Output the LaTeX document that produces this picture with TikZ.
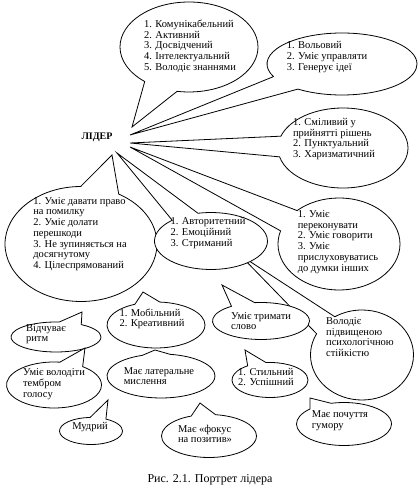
\documentclass[tikz,border=0pt]{standalone}
\usepackage{fontspec}
\setmainfont{Liberation Serif}
\usetikzlibrary{shapes.callouts,calc}

\begin{document}
\begin{tikzpicture}[x=1pt,y=1pt,
  bubble/.style={ellipse callout,draw=black,fill=white,line width=0.8pt,inner sep=0pt,
                 callout pointer arc=30},
  sz/.style 2 args={minimum width=#1,minimum height=#2},
  txt/.style={font=\fontsize{10.5}{10.7}\selectfont,align=left,inner sep=0pt}
]
\useasboundingbox[fill=white] (0,0) rectangle (420,493);

\node[font=\bfseries\fontsize{10}{12}\selectfont] (lider) at (97,356) {ЛІДЕР};

% bubbles round the leader
\node[bubble,sz={138}{90},callout absolute pointer={($(lider)+(35,10)$)},
  label={[txt,xshift=1,yshift=1]center:{1. Комунікабельний\\2. Активний\\3. Досвідчений\\4. Інтелектуальний\\5. Володіє знаннями}}]
  (komun) at (189,446) {};
\node[bubble,sz={150}{62},callout absolute pointer={($(lider)+(33,2)$)},
  label={[txt,xshift=-15,yshift=7]center:{1. Вольовий\\2. Уміє управляти\\3. Генерує ідеї}}]
  (volovyi) at (342,429) {};
\node[bubble,sz={130}{80},callout absolute pointer={($(lider)+(33,-6)$)},
  label={[txt,xshift=-9,yshift=9]center:{1. Сміливий у\\прийнятті рішень\\2. Пунктуальний\\3. Харизматичний}}]
  (smilyvyi) at (343,345) {};
\node[bubble,sz={122}{92},callout absolute pointer={($(lider)+(33,-10)$)},
  label={[txt,xshift=-1,yshift=2]center:{1. Уміє\\переконувати\\2. Уміє говорити\\3. Уміє\\прислуховуватись\\до думки інших}}]
  (perekon) at (339,249) {};
\node[bubble,sz={152}{115},callout absolute pointer={($(lider)+(15,-18)$)},
  label={[txt,xshift=-1,yshift=10]center:{1. Уміє давати право\\на помилку\\2. Уміє долати\\перешкоди\\3. Не зупиняється на\\досягнутому\\4. Цілеспрямований}}]
  (davaty) at (81,249) {};
\node[bubble,sz={103}{90},callout absolute pointer={($(lider)+(143,-118)$)},
  label={[txt,xshift=-2,yshift=18]center:{Володіє\\підвищеною\\психологічною\\стійкістю}}]
  (volodie) at (362,138) {};
\node[bubble,sz={113}{57},callout absolute pointer={($(lider)+(20,-16)$)},
  label={[txt,xshift=-3,yshift=8]center:{1. Авторитетний\\2. Емоційний\\3. Стриманий}}]
  (avtor) at (211,252) {};

% smaller bubbles below
\node[bubble,sz={97}{37},callout absolute pointer={($(avtor)+(11,-44)$)},
  label={[txt]center:{Уміє тримати\\слово}}]
  (trymaty) at (261,172) {};
\node[bubble,sz={98}{46},callout absolute pointer={($(davaty)+(62,-48)$)},
  label={[txt,xshift=-4,yshift=6]center:{1. Мобільний\\2. Креативний}}]
  (mobilnyi) at (156,168) {};
\node[bubble,sz={90}{30},callout absolute pointer={($(davaty)+(1,-68)$)},
  label={[txt,xshift=-10,yshift=3]center:{Відчуває\\ритм}}]
  (rytm) at (56,156) {};
\node[bubble,sz={95}{46},callout absolute pointer={($(rytm)+(29,-11)$)},
  label={[txt,yshift=1]center:{Уміє володіти\\тембром\\голосу}}]
  (tembr) at (54,108) {};
\node[bubble,sz={108}{44},callout absolute pointer={($(mobilnyi)+(-1,-25)$)},
  label={[txt,xshift=-2]center:{Має латеральне\\мислення}}]
  (lateral) at (161,117) {};
\node[bubble,sz={63}{27},callout absolute pointer={($(tembr)+(54,-15)$)},
  label={[txt,xshift=-1,yshift=4]center:{Мудрий}}]
  (mudryi) at (91,62) {};
\node[bubble,sz={76}{35},callout absolute pointer={($(trymaty)+(-16,-29)$)},
  label={[txt,xshift=-4,yshift=3]center:{1. Стильний\\2. Успішний}}]
  (stylnyi) at (270,113) {};
\node[bubble,sz={95}{43},callout absolute pointer={($(lateral)+(39,-27)$)},
  label={[txt,xshift=-4,yshift=2]center:{Має «фокус\\на позитив»}}]
  (fokus) at (209,57) {};
\node[bubble,sz={95}{43},callout absolute pointer={($(stylnyi)+(40,-18)$)},
  label={[txt,xshift=-4,yshift=3]center:{Має почуття\\гумору}}]
  (humor) at (344,69) {};

\node[font=\fontsize{12}{14}\selectfont] (caption) at (210,13) {Рис. 2.1. Портрет лідера};
\end{tikzpicture}
\end{document}
